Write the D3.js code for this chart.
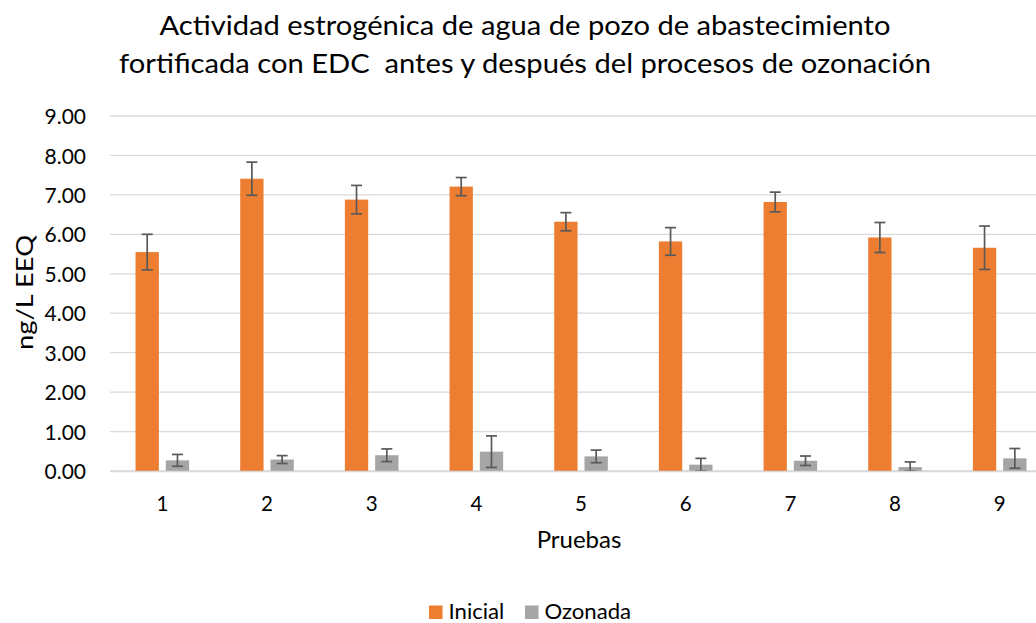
<!DOCTYPE html>
<html>
<head>
<meta charset="utf-8">
<script src="https://cdn.jsdelivr.net/npm/d3@7"></script>
<style>
  body { margin: 0; background: #fff; }
  text { font-family: Lato, "Open Sans", sans-serif; fill: #000; }
</style>
</head>
<body>
<svg class="chart"></svg>
<script>
// chart size
var width = 1036;
var height = 623;
var margin = {top: 116, left: 110, bottom: 152};

// data
var pruebas = ["1", "2", "3", "4", "5", "6", "7", "8", "9"];
var series = ["Inicial", "Ozonada"];
var inicial = [5.55, 7.41, 6.88, 7.21, 6.32, 5.82, 6.82, 5.92, 5.66];
var inicialErr = [0.45, 0.42, 0.36, 0.23, 0.23, 0.35, 0.25, 0.38, 0.55];
var ozonada = [0.27, 0.29, 0.40, 0.49, 0.37, 0.16, 0.26, 0.10, 0.32];
var ozonadaErr = [0.15, 0.10, 0.16, 0.40, 0.16, 0.16, 0.12, 0.13, 0.25];
var yTicks = [0, 1, 2, 3, 4, 5, 6, 7, 8, 9];
var colors = ["#ED7D31", "#A5A5A5"];

var rows = [];
pruebas.forEach(function(p, i) {
    rows.push({prueba: p, serie: "Inicial", v: inicial[i], e: inicialErr[i]});
    rows.push({prueba: p, serie: "Ozonada", v: ozonada[i], e: ozonadaErr[i]});
});

// widen text a little (the original font is wider than Lato)
function stretch(sel, k) {
    sel.each(function() {
        var len = this.getComputedTextLength();
        d3.select(this)
            .attr("textLength", len * k)
            .attr("lengthAdjust", "spacingAndGlyphs");
    });
}

var svg = d3.select(".chart")
    .attr("width", width)
    .attr("height", height);

// category step ~104.7 px, plot runs a bit past the right edge of the picture
var x0 = d3.scaleBand()
    .domain(pruebas)
    .range([margin.left, margin.left + 9 * 104.67]);

var groupW = 53.6;
var x1 = d3.scaleBand()
    .domain(series)
    .range([0, groupW])
    .paddingInner(0.23);

var y = d3.scaleLinear()
    .domain([0, 9])
    .range([height - margin.bottom, margin.top]);

var color = d3.scaleOrdinal().domain(series).range(colors);

// gridlines
svg.append("g")
    .selectAll("line")
    .data(yTicks)
    .enter().append("line")
    .attr("x1", margin.left)
    .attr("x2", width)
    .attr("y1", function(d) { return y(d); })
    .attr("y2", function(d) { return y(d); })
    .style("stroke", "#d9d9d9")
    .style("stroke-width", 1.3);

// y axis labels
var yAxis = d3.axisLeft(y)
    .tickValues(yTicks)
    .tickFormat(d3.format(".2f"))
    .tickSize(0)
    .tickPadding(24);

svg.append("g")
    .attr("transform", "translate(" + margin.left + ",0)")
    .call(yAxis)
    .call(function(g) { g.select(".domain").remove(); })
    .selectAll("text")
    .attr("dy", "0.36em")
    .style("font-size", "21px")
    .style("font-family", "Lato, 'Open Sans', sans-serif")
    .style("fill", "#000");

// bars
var offset = (x0.bandwidth() - groupW) / 2;
svg.append("g")
    .selectAll("rect")
    .data(rows)
    .enter().append("rect")
    .attr("x", function(d) { return x0(d.prueba) + offset + x1(d.serie); })
    .attr("y", function(d) { return y(d.v); })
    .attr("width", x1.bandwidth())
    .attr("height", function(d) { return y(0) - y(d.v); })
    .style("fill", function(d) { return color(d.serie); });

// error bars
var capW = 11;
var err = svg.append("g")
    .selectAll("g")
    .data(rows)
    .enter().append("g")
    .attr("transform", function(d) {
        return "translate(" + (x0(d.prueba) + offset + x1(d.serie) + x1.bandwidth() / 2) + ",0)";
    })
    .style("stroke", "#595959")
    .style("stroke-width", 1.7);

err.append("line")
    .attr("y1", function(d) { return y(d.v + d.e); })
    .attr("y2", function(d) { return y(Math.max(0, d.v - d.e)); });
err.append("line")
    .attr("x1", -capW / 2).attr("x2", capW / 2)
    .attr("y1", function(d) { return y(d.v + d.e); })
    .attr("y2", function(d) { return y(d.v + d.e); });
err.append("line")
    .attr("x1", -capW / 2).attr("x2", capW / 2)
    .attr("y1", function(d) { return y(Math.max(0, d.v - d.e)); })
    .attr("y2", function(d) { return y(Math.max(0, d.v - d.e)); });

// x axis
var xAxis = d3.axisBottom(x0).tickSize(0);
svg.append("g")
    .attr("transform", "translate(0," + y(0) + ")")
    .call(xAxis)
    .call(function(g) { g.select(".domain").style("stroke", "#d9d9d9").style("stroke-width", 1.3); })
    .selectAll("text")
    .attr("y", 40)
    .attr("dy", 0)
    .style("font-size", "20.5px")
    .style("font-family", "Lato, 'Open Sans', sans-serif")
    .style("fill", "#000");

// titles
svg.append("text")
    .attr("x", 525).attr("y", 34.5)
    .attr("text-anchor", "middle")
    .style("font-size", "26.5px")
    .text("Actividad estrogénica de agua de pozo de abastecimiento")
    .call(stretch, 1.1);
svg.append("text")
    .attr("x", 525).attr("y", 73.3)
    .attr("text-anchor", "middle")
    .style("font-size", "26.5px")
    .style("white-space", "pre")
    .text("fortificada con EDC  antes y después del procesos de ozonación")
    .call(stretch, 1.1);

svg.append("text")
    .attr("x", 579)
    .attr("y", 548.3)
    .attr("text-anchor", "middle")
    .style("font-size", "24px")
    .text("Pruebas");

svg.append("text")
    .attr("transform", "translate(33,292.5) rotate(-90)")
    .attr("text-anchor", "middle")
    .style("font-size", "24px")
    .text("ng/L EEQ")
    .call(stretch, 1.14);

// legend
var legendX = [429, 525];
var legend = svg.append("g")
    .selectAll("g")
    .data(series)
    .enter().append("g")
    .attr("transform", function(d, i) { return "translate(" + legendX[i] + ",605.5)"; });
legend.append("rect")
    .attr("width", 13.5).attr("height", 13.5)
    .style("fill", function(d) { return color(d); });
legend.append("text")
    .attr("x", 19.5).attr("y", 13.5)
    .style("font-size", "20.5px")
    .text(function(d) { return d; })
    .call(stretch, 1.08);
</script>
</body>
</html>
